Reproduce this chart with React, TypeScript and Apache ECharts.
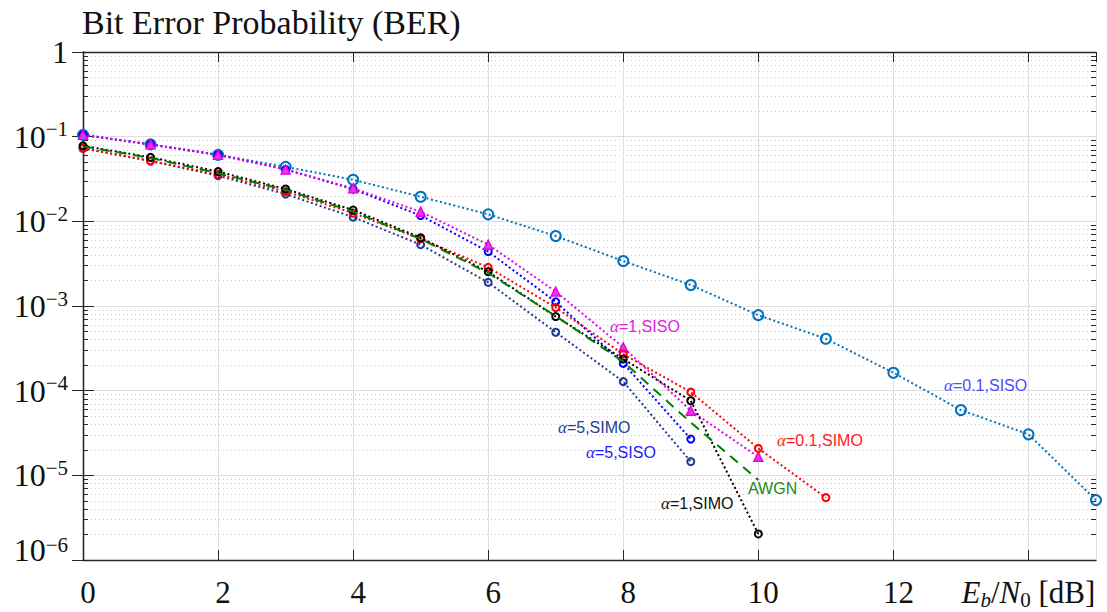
import React, { useEffect, useRef } from 'react';
import * as echarts from 'echarts';

// ---------- data ----------
const EBN0 = [0, 1, 2, 3, 4, 5, 6, 7, 8, 9, 10, 11, 12, 13, 14, 15];
const BER_A01_SISO = [0.105, 0.081, 0.061, 0.044, 0.031, 0.0195, 0.0121, 0.0067, 0.0034, 0.00177, 7.8e-4, 4.1e-4, 1.63e-4, 5.9e-5, 3.05e-5, 5.1e-6];
const BER_A1_SISO = [0.105, 0.081, 0.061, 0.041, 0.0245, 0.013, 0.0053, 1.48e-3, 3.25e-4, 5.8e-5, 1.65e-5];
const BER_A5_SISO = [0.105, 0.081, 0.061, 0.041, 0.024, 0.0117, 0.0044, 1.12e-3, 2.1e-4, 2.68e-5];
const BER_A5_SIMO = [0.073, 0.0516, 0.0346, 0.021, 0.0112, 0.0053, 0.0019, 4.9e-4, 1.28e-4, 1.45e-5];
const BER_A01_SIMO = [0.073, 0.0516, 0.036, 0.0225, 0.0125, 0.0062, 0.00286, 9.6e-4, 2.7e-4, 9.6e-5, 2.08e-5, 5.45e-6];
const BER_A1_SIMO = [0.078, 0.057, 0.0387, 0.0241, 0.0136, 0.0064, 0.00254, 7.5e-4, 2.37e-4, 7.6e-5, 2.03e-6];
const BER_AWGN = [0.077, 0.056, 0.037, 0.0235, 0.013, 0.0062, 0.00245, 7.6e-4, 2.2e-4, 4.2e-5, 8.8e-6];

const X_MIN = 0;
const X_MAX = 15;
const X_INTERVAL = 2;
const X_NAME_TICK = 14;
const Y_MIN = 1e-6;
const Y_MAX = 1;
const MINOR_MULT = [2, 3, 4, 5, 6, 7, 8, 9];
const DECADE_EXPS = [-6, -5, -4, -3, -2, -1];

const TITLE = 'Bit Error Probability (BER)';

const SERIF = '"Liberation Serif", "Times New Roman", serif';
const SANS = '"Liberation Sans", Arial, Helvetica, sans-serif';

const MINOR_LOG: number[] = [];
DECADE_EXPS.forEach((e) => MINOR_MULT.forEach((m) => MINOR_LOG.push(e + Math.log10(m))));

function pairs(ys: number[]) {
  return ys.map((y, i) => [EBN0[i], y]);
}

type SeriesDef = {
  name: string;
  data: number[];
  color: string;
  symbol: string;
  size: number;
  fill: string;
  dash: number[];
  width: number;
  border: number;
};

const SERIES: SeriesDef[] = [
  { name: 'α=0.1,SISO', data: BER_A01_SISO, color: '#0072BD', symbol: 'circle', size: 10, fill: 'rgba(255,255,255,0)', dash: [2, 2.6], width: 2, border: 2 },
  { name: 'α=5,SISO', data: BER_A5_SISO, color: '#0000FF', symbol: 'circle', size: 7, fill: 'rgba(255,255,255,0)', dash: [2, 2.6], width: 2, border: 2 },
  { name: 'α=1,SISO', data: BER_A1_SISO, color: '#E600E6', symbol: 'triangle', size: 9, fill: '#e23ae2', dash: [2, 2.6], width: 2, border: 1.4 },
  { name: 'α=5,SIMO', data: BER_A5_SIMO, color: '#1f3a93', symbol: 'circle', size: 7, fill: 'rgba(255,255,255,0)', dash: [2, 2.6], width: 2, border: 2 },
  { name: 'α=0.1,SIMO', data: BER_A01_SIMO, color: '#FF0000', symbol: 'circle', size: 7, fill: 'rgba(255,255,255,0)', dash: [2, 2.6], width: 2, border: 2 },
  { name: 'α=1,SIMO', data: BER_A1_SIMO, color: '#000000', symbol: 'circle', size: 7, fill: 'rgba(255,255,255,0)', dash: [2, 2.6], width: 2, border: 2 },
  { name: 'AWGN', data: BER_AWGN, color: '#007F00', symbol: 'none', size: 0, fill: 'none', dash: [10, 7], width: 2, border: 0 },
];

const ANNOTATIONS = [
  { a: '1', rest: '=1,SISO', color: '#dd22dd', left: 610, cy: 327 },
  { a: '0.1', rest: '=0.1,SISO', color: '#4a4aff', left: 944, cy: 386 },
  { a: '0.1', rest: '=0.1,SIMO', color: '#ff1a1a', left: 777, cy: 441 },
  { a: '5', rest: '=5,SIMO', color: '#23408f', left: 558, cy: 428 },
  { a: '5', rest: '=5,SISO', color: '#1a1aff', left: 586, cy: 453 },
  { a: '', rest: 'AWGN', color: '#1a8a1a', left: 748, cy: 489 },
  { a: '1', rest: '=1,SIMO', color: '#111111', left: 661, cy: 504 },
];

const AXIS_COLOR = '#262626';
const GRID = { left: 83, right: 11, top: 52, bottom: 52 };

export default function App() {
  const ref = useRef<HTMLDivElement>(null);

  useEffect(() => {
    if (!ref.current) return;
    const chart = echarts.init(ref.current, undefined, { renderer: 'svg' });

    const yRich = {
      a: { fontFamily: SERIF, fontSize: 32, lineHeight: 36, color: '#111' },
      b: { fontFamily: SERIF, fontSize: 21, lineHeight: 21, verticalAlign: 'top', color: '#111' },
      sp: { fontSize: 1, lineHeight: 52 },
      a6: { fontFamily: SERIF, fontSize: 32, lineHeight: 36, verticalAlign: 'top', color: '#111' },
      b6: { fontFamily: SERIF, fontSize: 21, lineHeight: 21, verticalAlign: 'top', color: '#111' },
    };
    const xRich = {
      n: { fontFamily: SERIF, fontSize: 31, lineHeight: 36, color: '#111', padding: [0, 0, 0, 10] },
      i: { fontFamily: SERIF, fontSize: 31, fontStyle: 'italic', lineHeight: 36, color: '#111' },
      r: { fontFamily: SERIF, fontSize: 31, lineHeight: 36, color: '#111' },
      si: { fontFamily: SERIF, fontSize: 21, fontStyle: 'italic', lineHeight: 21, verticalAlign: 'bottom', color: '#111' },
      s: { fontFamily: SERIF, fontSize: 21, lineHeight: 21, verticalAlign: 'bottom', color: '#111' },
    };

    const option: any = {
      animation: false,
      backgroundColor: '#ffffff',
      title: {
        text: TITLE,
        left: 77,
        top: 0,
        textStyle: { fontFamily: SERIF, fontSize: 34, fontWeight: 'normal', color: '#111' },
      },
      grid: [
        { ...GRID, containLabel: false },
        { ...GRID, containLabel: false },
      ],
      xAxis: [
        {
          gridIndex: 0,
          type: 'value',
          position: 'bottom',
          min: X_MIN,
          max: X_MAX,
          interval: X_INTERVAL,
          axisLine: { show: true, lineStyle: { color: AXIS_COLOR, width: 1.3 } },
          axisTick: { show: true, inside: true, length: 10, lineStyle: { color: AXIS_COLOR, width: 1 } },
          splitLine: { show: true, lineStyle: { color: '#dedede', width: 1, type: 'solid' } },
          axisLabel: {
            margin: 14,
            showMaxLabel: false,
            rich: xRich,
            formatter: (v: number) => {
              if (v === X_NAME_TICK) return '{i|E}{si|b}{r|/}{i|N}{s|0}{r| [dB]}';
              if (v > X_NAME_TICK) return '';
              return `{n|${v}}`;
            },
          },
        },
        {
          gridIndex: 0,
          type: 'value',
          position: 'top',
          min: X_MIN,
          max: X_MAX,
          interval: X_INTERVAL,
          axisLine: { show: true, lineStyle: { color: AXIS_COLOR, width: 1.3 } },
          axisTick: { show: true, inside: true, length: 10, lineStyle: { color: AXIS_COLOR, width: 1 } },
          splitLine: { show: false },
          axisLabel: { show: false },
        },
        {
          gridIndex: 1,
          type: 'value',
          position: 'bottom',
          min: X_MIN,
          max: X_MAX,
          show: false,
        },
      ],
      yAxis: [
        {
          gridIndex: 0,
          type: 'log',
          logBase: 10,
          position: 'left',
          min: Y_MIN,
          max: Y_MAX,
          axisLine: { show: true, lineStyle: { color: AXIS_COLOR, width: 1.3 } },
          axisTick: { show: true, inside: true, length: 11, lineStyle: { color: AXIS_COLOR, width: 1 } },
          splitLine: { show: true, lineStyle: { color: '#dedede', width: 1, type: 'solid' } },
          axisLabel: {
            margin: 15,
            rich: yRich,
            formatter: (v: number) => {
              const e = Math.round(Math.log10(v));
              if (e === 0) return '{a|1}';
              if (e === -6) return `{sp|\u200a}{a6|10}{b6|\u2212${-e}}`;
              return `{a|10}{b|\u2212${-e}}`;
            },
          },
        },
        {
          gridIndex: 0,
          type: 'log',
          logBase: 10,
          position: 'right',
          min: Y_MIN,
          max: Y_MAX,
          axisLine: { show: true, lineStyle: { color: AXIS_COLOR, width: 1.3 } },
          axisTick: { show: true, inside: true, length: 11, lineStyle: { color: AXIS_COLOR, width: 1 } },
          splitLine: { show: false },
          axisLabel: { show: false },
        },
        {
          gridIndex: 1,
          type: 'value',
          position: 'left',
          min: Math.log10(Y_MIN),
          max: Math.log10(Y_MAX),
          axisLine: { show: false },
          axisTick: { show: true, inside: true, length: 5, customValues: MINOR_LOG, lineStyle: { color: AXIS_COLOR, width: 1 } },
          splitLine: { show: true, lineStyle: { color: '#cccccc', width: 1, type: [1, 3] } },
          axisLabel: { show: false },
        },
        {
          gridIndex: 1,
          type: 'value',
          position: 'right',
          min: Math.log10(Y_MIN),
          max: Math.log10(Y_MAX),
          axisLine: { show: false },
          axisTick: { show: true, inside: true, length: 5, customValues: MINOR_LOG, lineStyle: { color: AXIS_COLOR, width: 1 } },
          splitLine: { show: false },
          axisLabel: { show: false },
        },
      ],
      series: SERIES.map((s, idx) => ({
        type: 'line',
        name: s.name,
        xAxisIndex: 0,
        yAxisIndex: 0,
        data: pairs(s.data),
        symbol: s.symbol,
        symbolSize: s.size,
        showSymbol: s.symbol !== 'none',
        showAllSymbol: true,
        lineStyle: { color: s.color, width: s.width, type: s.dash },
        itemStyle: { color: s.fill, borderColor: s.color, borderWidth: s.border },
        emphasis: { disabled: true },
        silent: true,
        z: 3 + idx,
      })),
      graphic: ANNOTATIONS.map((a) => ({
        type: 'text',
        left: a.left,
        top: a.cy - 9,
        silent: true,
        z: 20,
        style: {
          text: a.a ? `{g|α}{t|${a.rest}}` : `{t|${a.rest}}`,
          fill: a.color,
          rich: {
            g: { fontFamily: SERIF, fontStyle: 'italic', fontSize: 17, fill: a.color, color: a.color },
            t: { fontFamily: SANS, fontSize: 16, fill: a.color, color: a.color },
          },
        },
      })),
    };

    chart.setOption(option);
    return () => chart.dispose();
  }, []);

  return (
    <div
      ref={ref}
      style={{ position: 'fixed', left: 0, top: 0, width: 1107, height: 612, background: '#fff' }}
    />
  );
}
